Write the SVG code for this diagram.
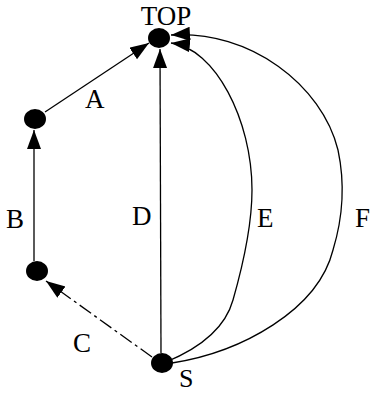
<svg xmlns="http://www.w3.org/2000/svg" width="371" height="394" viewBox="0 0 371 394">
<style>
.node{fill:#000}
.edge{fill:none;stroke:#000;stroke-width:1.3}
.dash{stroke-dasharray:14 4 3 4}
.lbl{font-family:"Liberation Serif","Times New Roman",serif;font-size:27px;fill:#000}
</style>
<defs>
<marker id="arr" markerUnits="userSpaceOnUse" markerWidth="22" markerHeight="16" refX="19" refY="7" orient="auto">
<path d="M0,0 L19,7 L0,14 z" fill="#000"/>
</marker>
</defs>
<g id="connectors">
<path class="edge" d="M45 112 L149 43" marker-end="url(#arr)"/>
<path class="edge" d="M34 261 L34 130" marker-end="url(#arr)"/>
<path class="edge dash" d="M152 357 L46 281" marker-end="url(#arr)"/>
<path class="edge" d="M161 353 L160 49" marker-end="url(#arr)"/>
<path class="edge" d="M166 362 C200 348 225 329 233 300 C243 265 252 225 252 190 C252 120 215 48 171 43" marker-end="url(#arr)"/>
<path class="edge" d="M172 363 C242 352 318 310 333 250 C343 217 345 183 338 150 C322 85 250 30 171 35" marker-end="url(#arr)"/>
</g>
<g id="labels">
<text class="lbl" x="85" y="108">A</text>
<text class="lbl" x="6" y="228">B</text>
<text class="lbl" x="73" y="352">C</text>
<text class="lbl" x="132" y="225">D</text>
<text class="lbl" x="257" y="227">E</text>
<text class="lbl" x="355" y="227">F</text>
</g>
<g id="node-top"><ellipse class="node" cx="159" cy="38" rx="11" ry="10"/><text class="lbl" x="166" y="25" text-anchor="middle">TOP</text></g>
<g id="node-left-upper"><ellipse class="node" cx="35" cy="119" rx="11" ry="10"/></g>
<g id="node-left-lower"><ellipse class="node" cx="37" cy="271" rx="11" ry="10"/></g>
<g id="node-s"><ellipse class="node" cx="162" cy="363" rx="11" ry="10"/><text class="lbl" x="179" y="387" style="font-size:26px">S</text></g>
</svg>
